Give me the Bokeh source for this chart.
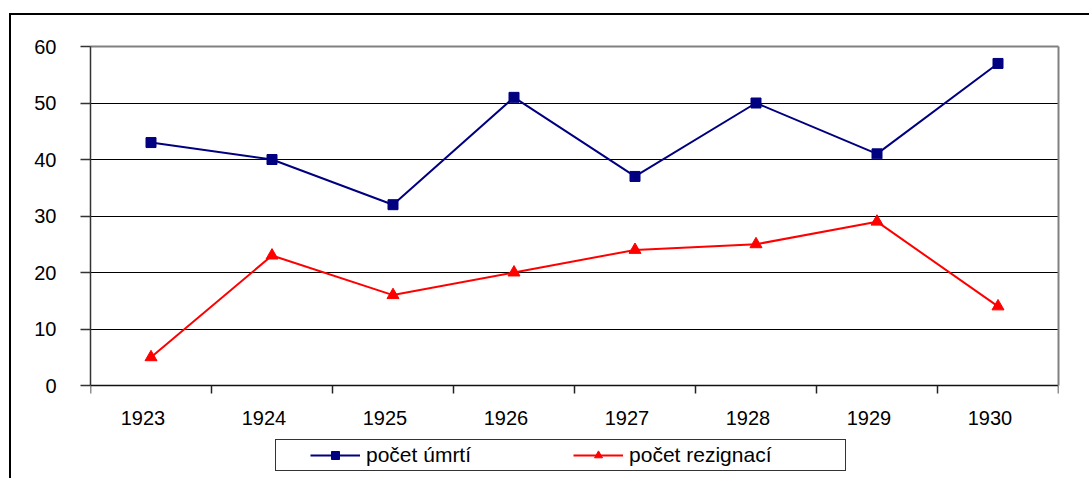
from bokeh.plotting import figure
from bokeh.models import Range1d, FixedTicker, Legend, LegendItem, LinearAxis
from bokeh.embed import file_html
from bokeh.resources import INLINE

years = ["1923", "1924", "1925", "1926", "1927", "1928", "1929", "1930"]
deaths = [43, 40, 32, 51, 37, 50, 41, 57]
resignations = [5, 23, 16, 20, 24, 25, 29, 14]
y_ticks = [0, 10, 20, 30, 40, 50, 60]
labels = ["počet úmrtí", "počet rezignací"]

FONT = "Liberation Sans"
FS = "20px"
LEG_FS = "21px"

# layout in pixels
W, H = 1089, 478
PLOT_LEFT, PLOT_RIGHT, PLOT_TOP, AXIS_Y, FRAME_BOTTOM = 90, 1058, 46, 385, 470
LABEL_SHIFT_PX = 8
y0, y1 = y_ticks[0], y_ticks[-1]
upp = (y1 - y0) / (AXIS_Y - PLOT_TOP)
y_start = y0 - (FRAME_BOTTOM - AXIS_Y) * upp
cat_px = (PLOT_RIGHT - PLOT_LEFT) / len(years)

xc = [i + 0.5 for i in range(len(years))]
label_pos = [c - LABEL_SHIFT_PX / cat_px for c in xc]

p = figure(width=W, height=H, output_backend="svg", toolbar_location=None,
           x_range=Range1d(0, len(years)), y_range=Range1d(y_start, y1),
           min_border_left=PLOT_LEFT, min_border_right=W - PLOT_RIGHT,
           min_border_top=PLOT_TOP, min_border_bottom=H - FRAME_BOTTOM)
p.background_fill_color = None
p.border_fill_color = None
p.outline_line_color = None

# outer chart border and legend frame drawn as CSS background lines
p.styles = {
    "background-color": "white",
    "background-image": ", ".join(["linear-gradient(#000,#000)"] * 2 +
                                  ["linear-gradient(#333,#333)"] * 4),
    "background-size": "1085px 2px, 2px 470px, 571px 1px, 571px 1px, 1px 32px, 1px 32px",
    "background-position": "9px 13px, 9px 13px, 275px 439px, 275px 470px, 275px 439px, 845px 439px",
    "background-repeat": "no-repeat",
}

# x axis: crosses at y=0, labels under the categories, tick marks at boundaries
xa = p.xaxis[0]
xa.fixed_location = y0
xa.ticker = FixedTicker(ticks=label_pos, minor_ticks=list(range(len(years) + 1)))
xa.major_label_overrides = {c: y for c, y in zip(label_pos, years)}
xa.major_tick_out = 0
xa.major_tick_in = 0
xa.minor_tick_out = 8
xa.minor_tick_in = 0
xa.minor_tick_line_color = "#222222"
xa.minor_tick_line_width = 1.5
xa.axis_line_color = "#111111"
xa.axis_line_width = 1.5
xa.major_label_text_font = FONT
xa.major_label_text_font_size = FS
xa.major_label_text_color = "black"
xa.major_label_standoff = 17

ya = p.yaxis[0]
ya.bounds = (y0, y1)
ya.ticker = FixedTicker(ticks=y_ticks, minor_ticks=[])
ya.major_tick_out = 10
ya.major_tick_in = 0
ya.major_tick_line_color = "#333333"
ya.major_tick_line_width = 1.5
ya.axis_line_color = "#333333"
ya.axis_line_width = 1.5
ya.major_label_text_font = FONT
ya.major_label_text_font_size = FS
ya.major_label_text_color = "black"
ya.major_label_standoff = 24

# grey plot-area border on top and right
top_ax = LinearAxis(ticker=FixedTicker(ticks=[], minor_ticks=[]),
                    axis_line_color="#808080", axis_line_width=2,
                    major_tick_out=0, major_tick_in=0, minor_tick_out=0,
                    major_label_text_font_size="0px")
p.add_layout(top_ax, "above")
right_ax = LinearAxis(ticker=FixedTicker(ticks=[], minor_ticks=[]), bounds=(y0, y1),
                      axis_line_color="#808080", axis_line_width=2,
                      major_tick_out=0, major_tick_in=0, minor_tick_out=0,
                      major_label_text_font_size="0px")
p.add_layout(right_ax, "right")

p.xgrid.visible = False
p.ygrid.ticker = FixedTicker(ticks=y_ticks[1:-1])
p.ygrid.grid_line_color = "black"
p.ygrid.grid_line_width = 1

l1 = p.line(xc, deaths, line_color="#000080", line_width=2)
m1 = p.scatter(xc, deaths, marker="square", size=10, fill_color="#000080",
               line_color="#000080")
l2 = p.line(xc, resignations, line_color="#FF0000", line_width=2)
m2 = p.scatter(xc, resignations, marker="triangle", size=12, fill_color="#FF0000",
               line_color="#FF0000")

legend = Legend(items=[LegendItem(label=labels[0], renderers=[l1, m1]),
                       LegendItem(label=labels[1], renderers=[l2, m2])],
                orientation="horizontal", location=(310 - PLOT_LEFT, 3),
                padding=0, margin=0, spacing=102, glyph_width=50,
                glyph_height=20, label_height=20,
                label_standoff=6, border_line_alpha=0,
                background_fill_alpha=0,
                label_text_font=FONT, label_text_font_size=LEG_FS,
                label_text_color="black")
p.add_layout(legend, "center")

open("out.html", "w").write(file_html(p, INLINE))
